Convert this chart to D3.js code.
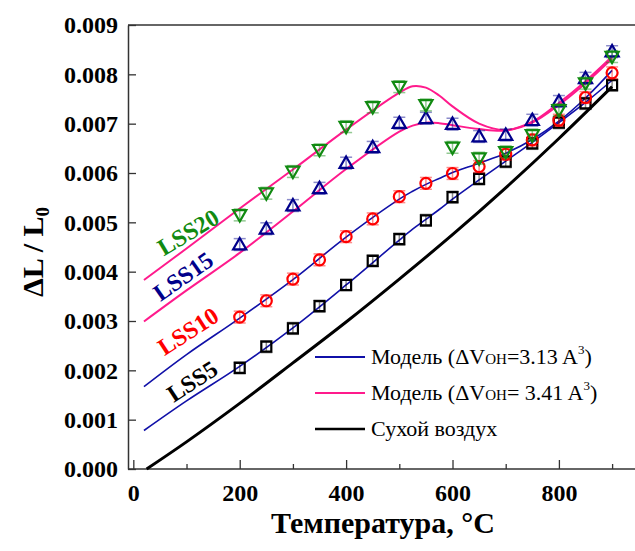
<!DOCTYPE html>
<html>
<head>
<meta charset="utf-8">
<script src="https://cdn.jsdelivr.net/npm/d3@7"></script>
<style>
  body { margin: 0; background: #fff; }
  svg { display: block; }
  text { font-family: "Liberation Serif", "Times New Roman", serif; }
</style>
</head>
<body>
<div id="chart"></div>
<script>
// measured temperatures (°C)
var temps = [200, 250, 300, 350, 400, 450, 500, 550, 600, 650, 700, 750, 800, 850, 900];

// dL/L0 in units of 1e-3
var lss5  = [2.05, 2.48, 2.85, 3.30, 3.73, 4.22, 4.66, 5.04, 5.51, 5.88, 6.23, 6.60, 7.02, 7.41, 7.78];
var lss10 = [3.08, 3.41, 3.85, 4.24, 4.71, 5.07, 5.52, 5.79, 5.99, 6.13, 6.38, 6.67, 7.07, 7.53, 8.03];
var lss15 = [4.55, 4.87, 5.34, 5.69, 6.20, 6.52, 7.01, 7.11, 6.99, 6.74, 6.77, 7.07, 7.45, 7.92, 8.46];
var lss20 = [5.15, 5.59, 6.03, 6.47, 6.94, 7.34, 7.75, 7.38, 6.52, 6.30, 6.43, 6.77, 7.28, 7.82, 8.36];
var errBar = 0.12;

// model curves
var modelT = [20, 100, 200, 300, 400, 500, 525, 550, 575, 600, 650, 700, 750, 800, 850, 900];
var blue5  = [0.78, 1.38, 2.08, 2.86, 3.73, 4.64, 4.86, 5.06, 5.26, 5.47, 5.86, 6.24, 6.62, 7.02, 7.43, 7.88];
var blue10 = [1.67, 2.32, 3.06, 3.84, 4.70, 5.47, 5.63, 5.77, 5.89, 6.01, 6.20, 6.40, 6.68, 7.05, 7.52, 8.08];
var pink15 = [2.99, 3.62, 4.38, 5.22, 6.08, 6.84, 6.96, 7.02, 7.01, 6.97, 6.89, 6.86, 7.02, 7.38, 7.82, 8.32];
var pink20 = [3.83, 4.47, 5.28, 6.07, 6.88, 7.63, 7.76, 7.73, 7.57, 7.35, 7.00, 6.87, 7.04, 7.42, 7.86, 8.36];

// dry air
var dryT = [25, 100, 200, 300, 400, 500, 600, 700, 800, 900];
var dry  = [0, 0.55, 1.33, 2.15, 2.98, 3.85, 4.75, 5.70, 6.70, 7.75];

var xMajor = [0, 200, 400, 600, 800];
var xMinor = [100, 300, 500, 700, 900];
var yTicks = [0, 0.001, 0.002, 0.003, 0.004, 0.005, 0.006, 0.007, 0.008, 0.009];

var W = 635, H = 551;
var svg = d3.select("#chart").append("svg").attr("width", W).attr("height", H);

var x = d3.scaleLinear().domain([-10, 950]).range([128, 638.7]);
var y = d3.scaleLinear().domain([0, 0.009]).range([469, 25]);

var axisCol = "#333";

// top frame line
svg.append("line")
  .attr("x1", x(-10)).attr("x2", W + 5)
  .attr("y1", y(0.009)).attr("y2", y(0.009))
  .attr("stroke", axisCol).attr("stroke-width", 1.5);

// x axis
var gx = svg.append("g").attr("transform", "translate(0," + y(0) + ")")
  .call(d3.axisBottom(x).tickValues(xMajor).tickSizeInner(-9).tickSizeOuter(0).tickPadding(15).tickFormat(d3.format("d")));
svg.append("g").attr("transform", "translate(0," + y(0) + ")")
  .call(d3.axisBottom(x).tickValues(xMinor).tickSizeInner(-5).tickSizeOuter(0).tickFormat(""))
  .select(".domain").remove();

// y axis
var gy = svg.append("g").attr("transform", "translate(" + x(-10) + ",0)")
  .call(d3.axisLeft(y).tickValues(yTicks).tickSizeInner(-8).tickSizeOuter(0).tickPadding(10).tickFormat(d3.format(".3f")));

[gx, gy].forEach(function(g) {
  g.select(".domain").attr("stroke", axisCol).attr("stroke-width", 1.5);
  g.selectAll(".tick line").attr("stroke", axisCol).attr("stroke-width", 1.3);
  g.selectAll(".tick text").attr("fill", "#000")
    .style("font-family", "Liberation Serif").style("font-weight", "bold").style("font-size", "24px");
});
svg.selectAll(".tick line").attr("stroke", axisCol).attr("stroke-width", 1.3);
gx.select(".domain").attr("d", "M" + x(-10) + ",0H" + (W + 5));

// axis titles
svg.append("text")
  .attr("x", 383).attr("y", 533)
  .attr("text-anchor", "middle")
  .style("font-weight", "bold").style("font-size", "30px")
  .text("Температура, °C");

var yt = svg.append("text")
  .attr("transform", "translate(43,252) rotate(-90)")
  .attr("text-anchor", "middle")
  .style("font-weight", "bold").style("font-size", "30px");
yt.append("tspan").text("ΔL / L");
yt.append("tspan").attr("dy", 6).style("font-size", "19px").text("0");

// model lines
var line = d3.line().curve(d3.curveCatmullRom.alpha(0.5))
  .x(function(d) { return x(d[0]); })
  .y(function(d) { return y(d[1] / 1000); });

function zip(ts, vs) { return ts.map(function(t, i) { return [t, vs[i]]; }); }

var blueCol = "#1010a8", pinkCol = "#ff1a8c";

var curves = [
  { data: zip(dryT, dry), color: "#000", w: 3 },
  { data: zip(modelT, blue5), color: blueCol, w: 1.6 },
  { data: zip(modelT, blue10), color: blueCol, w: 1.6 },
  { data: zip(modelT, pink15), color: pinkCol, w: 2 },
  { data: zip(modelT, pink20), color: pinkCol, w: 2 }
];
svg.selectAll(".model").data(curves).enter().append("path")
  .attr("class", "model")
  .attr("d", function(d) { return line(d.data); })
  .attr("fill", "none")
  .attr("stroke", function(d) { return d.color; })
  .attr("stroke-width", function(d) { return d.w; });

// measured series
var series = [
  { vals: lss5,  color: "#000", sym: d3.symbolSquare, size: 100, rot: 0 },
  { vals: lss10, color: "#ff0000", sym: d3.symbolCircle, size: 95, rot: 0 },
  { vals: lss15, color: "#00008b", sym: d3.symbolTriangle, size: 75, rot: 0 },
  { vals: lss20, color: "#118a11", sym: d3.symbolTriangle, size: 75, rot: 180 }
];

series.forEach(function(s) {
  var pts = zip(temps, s.vals);
  var g = svg.append("g");
  var eb = g.selectAll(".eb").data(pts).enter().append("g").attr("opacity", 0.45);
  eb.append("line")
    .attr("x1", function(d) { return x(d[0]); }).attr("x2", function(d) { return x(d[0]); })
    .attr("y1", function(d) { return y((d[1] + errBar) / 1000); })
    .attr("y2", function(d) { return y((d[1] - errBar) / 1000); })
    .attr("stroke", s.color).attr("stroke-width", 1.5);
  [1, -1].forEach(function(sgn) {
    eb.append("line")
      .attr("x1", function(d) { return x(d[0]) - 6; }).attr("x2", function(d) { return x(d[0]) + 6; })
      .attr("y1", function(d) { return y((d[1] + sgn * errBar) / 1000); })
      .attr("y2", function(d) { return y((d[1] + sgn * errBar) / 1000); })
      .attr("stroke", s.color).attr("stroke-width", 1.5);
  });
  g.selectAll(".pt").data(pts).enter().append("path")
    .attr("d", d3.symbol().type(s.sym).size(s.size))
    .attr("transform", function(d) {
      var dy = s.sym === d3.symbolTriangle ? (s.rot ? -1 : 1) : 0;
      return "translate(" + x(d[0]) + "," + (y(d[1] / 1000) + dy) + ") rotate(" + s.rot + ")";
    })
    .attr("fill", "none")
    .attr("stroke", s.color).attr("stroke-width", 2.2);
});

// series labels
var labels = [
  { text: "LSS20", color: "#118a11", cx: 188, cy: 232, a: -31 },
  { text: "LSS15", color: "#00008b", cx: 183, cy: 276, a: -35 },
  { text: "LSS10", color: "#ff0000", cx: 188, cy: 331, a: -33 },
  { text: "LSS5",  color: "#000",    cx: 192, cy: 381, a: -33 }
];
svg.selectAll(".lbl").data(labels).enter().append("text")
  .attr("transform", function(d) { return "translate(" + d.cx + "," + d.cy + ") rotate(" + d.a + ")"; })
  .attr("text-anchor", "middle").attr("dy", "0.35em")
  .attr("fill", function(d) { return d.color; })
  .style("font-weight", "bold").style("font-size", "24px")
  .text(function(d) { return d.text; });

// legend
var legend = [
  { color: blueCol, w: 1.8, pre: "Модель (ΔV", sub: "OH", post: "=3.13 A", y: 357 },
  { color: pinkCol, w: 1.8, pre: "Модель (ΔV", sub: "OH", post: "= 3.41 A", y: 393 },
  { color: "#000", w: 2.5, pre: "Сухой воздух", y: 429 }
];
legend.forEach(function(l) {
  svg.append("line").attr("x1", 315).attr("x2", 365).attr("y1", l.y).attr("y2", l.y)
    .attr("stroke", l.color).attr("stroke-width", l.w);
  var t = svg.append("text").attr("x", 371).attr("y", l.y + 7).style("font-size", "22px");
  t.append("tspan").text(l.pre);
  if (l.sub) {
    t.append("tspan").style("font-size", "15px").text(l.sub);
    t.append("tspan").text(l.post);
    t.append("tspan").attr("dy", -10).style("font-size", "13px").text("3");
    t.append("tspan").attr("dy", 10).text(")");
  }
});
</script>
</body>
</html>
